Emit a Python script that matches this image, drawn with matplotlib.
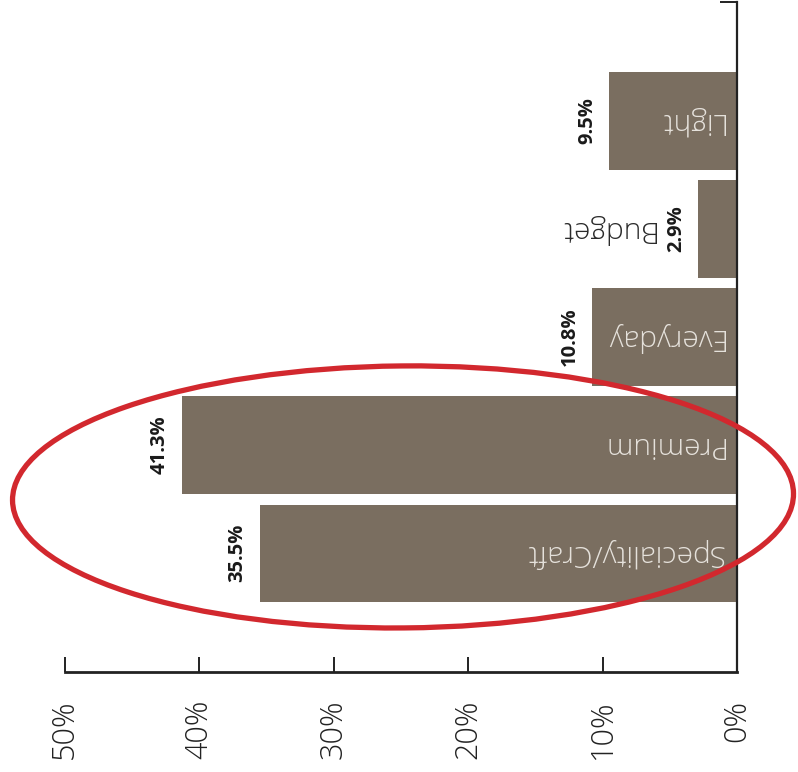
import matplotlib.pyplot as plt
from matplotlib.patches import Ellipse
from matplotlib.transforms import IdentityTransform

# share of sales by segment, listed top to bottom
segments = ["Light", "Budget", "Everyday", "Premium", "Speciality/Craft"]
shares = [9.5, 2.9, 10.8, 41.3, 35.5]
value_labels = ["9.5%", "2.9%", "10.8%", "41.3%", "35.5%"]
tick_values = [0, 10, 20, 30, 40, 50]
tick_labels = ["0%", "10%", "20%", "30%", "40%", "50%"]
highlighted = ["Premium", "Speciality/Craft"]

bar_color = "#7a6e60"
ink = "#222222"
thin = dict(family="Open Sans", fontweight="light")

fig = plt.figure(figsize=(7.98, 7.72), dpi=100)
ax = fig.add_axes([65 / 798, 1 - 672 / 772, (737 - 65) / 798, 670 / 772])

pos = list(range(len(segments)))
ax.barh(pos, shares, height=0.9, color=bar_color, edgecolor="none")

ax.set_xlim(50, 0)
ax.set_ylim(len(segments) + 0.1, -1.1)

for s in ["left", "top"]:
    ax.spines[s].set_visible(False)
ax.spines["bottom"].set_linewidth(2.0)
ax.spines["bottom"].set_color(ink)
ax.spines["right"].set_linewidth(1.6)
ax.spines["right"].set_color(ink)

ax.set_xticks(tick_values)
ax.set_xticklabels(tick_labels, rotation=90, fontsize=22, color="#222222", **thin)
ax.tick_params(axis="x", direction="in", length=11, width=1.4, color=ink, pad=20)
ax.yaxis.tick_right()
ax.set_yticks([-1.1])
ax.set_yticklabels([])
ax.tick_params(axis="y", direction="in", length=12, width=1.4, color=ink)

for p, v, lab, name in zip(pos, shares, value_labels, segments):
    ax.annotate(lab, (v, p), xytext=(-16, 0), textcoords="offset points",
                rotation=90, ha="center", va="center", fontsize=14.5,
                fontweight="bold", family="Open Sans", color="#1a1a1a")
    if v > 5:
        ax.annotate(name, (0, p), xytext=(-10, 0), textcoords="offset points",
                    rotation=180, ha="right", va="center", fontsize=21.5,
                    color="#e6e2dc", **thin)
    else:
        ax.annotate(name, (v, p), xytext=(-32, 0), textcoords="offset points",
                    rotation=180, ha="right", va="center", fontsize=21.5,
                    color="#2a2a2a", **thin)

# red ring around the two leading segments, sized in pixels
i0 = segments.index(highlighted[0])
i1 = segments.index(highlighted[1])
cx, cy = ax.transData.transform((24.85, (i0 + i1) / 2 - 0.02))
ring = Ellipse((cx, cy), width=781, height=262, angle=0.5, fill=False,
               edgecolor="#d2282e", linewidth=3.8, transform=IdentityTransform(),
               clip_on=False, zorder=5)
fig.add_artist(ring)

fig.savefig("out.png", dpi=100)
